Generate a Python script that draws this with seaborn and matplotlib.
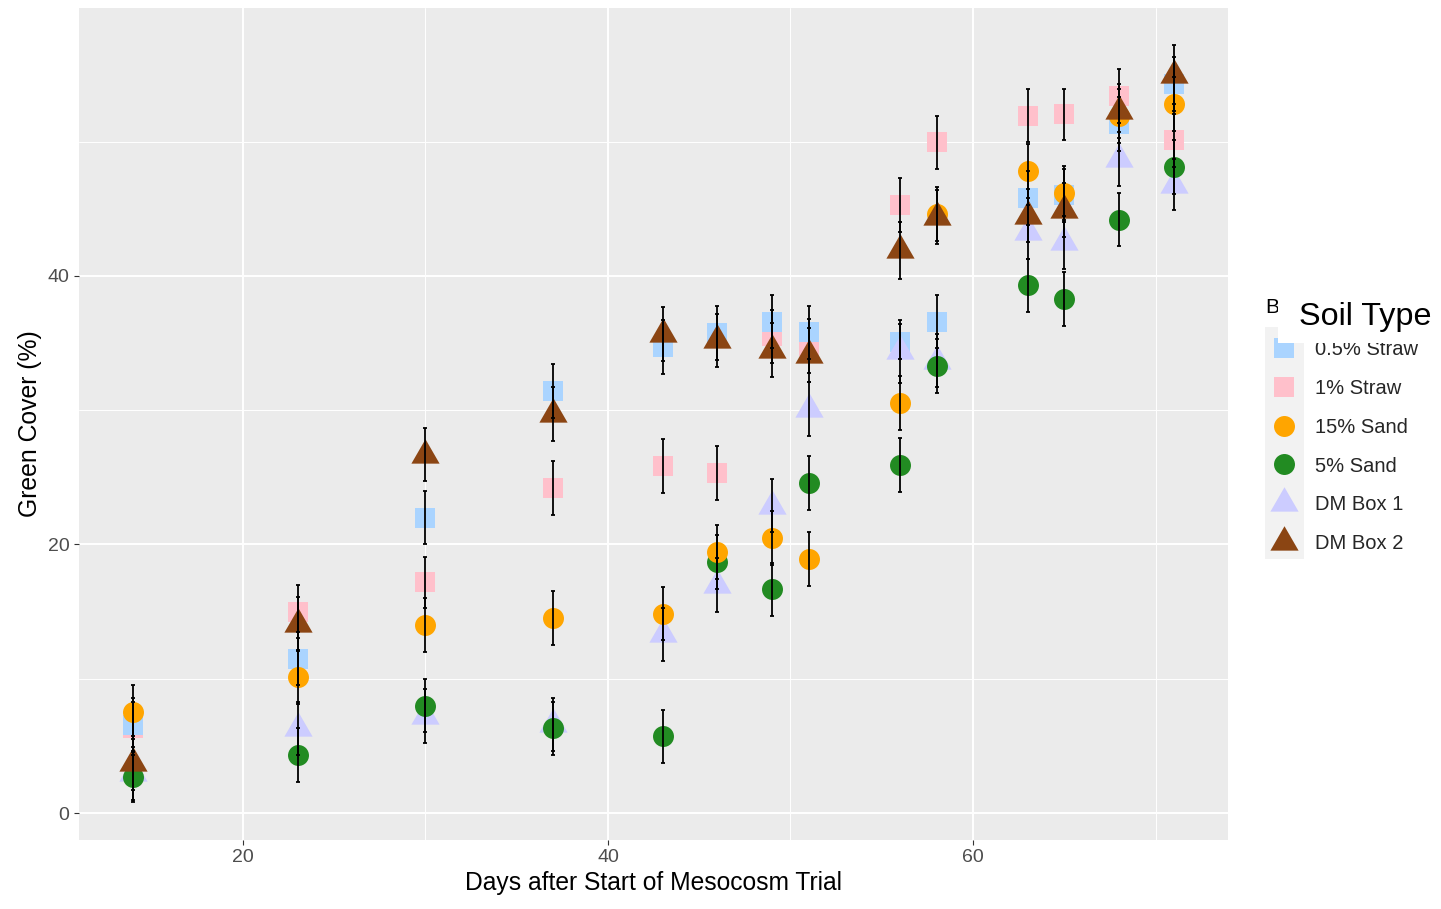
import numpy as np
import pandas as pd
import matplotlib
matplotlib.use("Agg")
import matplotlib.pyplot as plt
from matplotlib.path import Path
from matplotlib.lines import Line2D
from matplotlib.patches import Rectangle
import seaborn as sns

# ---------------- data ----------------
days = [14, 23, 30, 37, 43, 46, 49, 51, 56, 58, 63, 65, 68, 71]

straw_05 = [6.55, 11.5, 22.0, 31.45, 34.7, 35.75, 36.6, 35.8, 35.1, 36.6, 45.8, 46.0, 51.3, 54.3]
straw_1 = [6.3, 15.0, 17.2, 24.2, 25.85, 25.3, 35.5, 34.8, 45.3, 49.95, 51.95, 52.05, 53.4, 50.1]
sand_15 = [7.5, 10.15, 14.0, 14.5, 14.85, 19.45, 20.5, 18.9, 30.55, 44.6, 47.8, 46.2, 51.9, 52.8]
sand_5 = [2.7, 4.3, 8.0, 6.3, 5.7, 18.7, 16.65, 24.6, 25.9, 33.3, 39.3, 38.3, 44.2, 48.1]
dm_box1 = [2.95, 6.3, 7.2, 6.6, 13.3, 17.0, 22.9, 30.1, 34.4, 33.7, 43.3, 42.5, 48.7, 46.8]
dm_box2 = [3.75, 14.1, 26.7, 29.7, 35.7, 35.2, 34.5, 34.1, 41.9, 44.4, 44.5, 44.9, 52.3, 55.0]

err_straw_05 = [2.0, 2.0, 2.0, 2.0, 2.0, 2.0, 2.0, 2.0, 1.3, 2.0, 2.0, 2.0, 2.0, 2.0]
err_straw_1 = [2.0, 2.0, 1.9, 2.0, 2.0, 2.0, 2.0, 2.0, 2.0, 2.0, 2.0, 1.9, 2.0, 2.0]
err_sand_15 = [2.0, 2.0, 2.0, 2.0, 2.0, 2.0, 2.0, 2.0, 2.0, 2.0, 2.0, 2.0, 2.0, 2.0]
err_sand_5 = [1.9, 2.0, 2.0, 2.0, 2.0, 2.0, 2.0, 2.0, 2.0, 2.0, 2.0, 2.0, 2.0, 2.0]
err_dm_box1 = [2.0, 2.0, 2.0, 2.0, 2.0, 2.0, 2.0, 2.0, 2.35, 2.0, 2.0, 2.0, 2.0, 1.9]
err_dm_box2 = [2.0, 2.0, 2.0, 2.0, 2.0, 2.0, 2.0, 2.0, 2.1, 2.0, 2.0, 2.0, 2.0, 2.2]

labels = ["0.5% Straw", "1% Straw", "15% Sand", "5% Sand", "DM Box 1", "DM Box 2"]
colors = ["#aad4ff", "#ffc0cb", "#ffa500", "#228b22", "#ccccff", "#8b4513"]

# --------------- styling ---------------
sns.set_theme(style="darkgrid")
plt.rcParams["font.family"] = ["Liberation Sans", "DejaVu Sans"]

W, H = 1441, 909
fig = plt.figure(figsize=(W / 100, H / 100), dpi=100)
ax = fig.add_axes([79 / W, 1 - 840 / H, (1228 - 79) / W, (840 - 8) / H])
ax.set_facecolor("#EBEBEB")
for s in ax.spines.values():
    s.set_visible(False)

# triangle with centroid at origin (like R pch 17)
tri = Path([(0, 1), (-0.866, -0.5), (0.866, -0.5), (0, 1)],
           [Path.MOVETO, Path.LINETO, Path.LINETO, Path.CLOSEPOLY])

series = {
    "0.5% Straw": (straw_05, err_straw_05, "s", 225),
    "1% Straw": (straw_1, err_straw_1, "s", 225),
    "15% Sand": (sand_15, err_sand_15, "o", 228),
    "5% Sand": (sand_5, err_sand_5, "o", 228),
    "DM Box 1": (dm_box1, err_dm_box1, tri, 550),
    "DM Box 2": (dm_box2, err_dm_box2, tri, 550),
}
color_map = dict(zip(labels, colors))

draw_order = ["1% Straw", "0.5% Straw", "DM Box 1", "5% Sand", "15% Sand", "DM Box 2"]
for name in draw_order:
    vals, errs, mk, size = series[name]
    df = pd.DataFrame({"day": days, "cover": vals})
    sns.scatterplot(data=df, x="day", y="cover", color=color_map[name], marker=mk,
                    s=size, linewidth=0, ax=ax, legend=False, zorder=3)

for name in labels:
    vals, errs, mk, size = series[name]
    ax.errorbar(days, vals, yerr=errs, fmt="none", ecolor="black", elinewidth=1.3,
                capsize=1.7, capthick=1.3, zorder=4)

ax.set_xticks([20, 40, 60])
ax.set_yticks([0, 20, 40])
ax.set_xticks([10, 30, 50, 70], minor=True)
ax.set_yticks([10, 30, 50], minor=True)
ax.set_xlim(11.02, 73.97)
ax.set_ylim(-2.01, 59.96)
ax.grid(which="major", color="white", linewidth=1.4)
ax.grid(which="minor", color="white", linewidth=0.7)
ax.tick_params(which="major", length=3.8, width=0.8, color="#333333",
               labelsize=14, labelcolor="#4D4D4D", pad=3, bottom=True, left=True)
ax.tick_params(which="minor", length=0)
ax.set_xlabel("Days after Start of Mesocosm Trial", fontsize=17.7, color="black", labelpad=3)
ax.set_ylabel("Green Cover (%)", fontsize=17.8, color="black", labelpad=4)

# --------------- legend ---------------
fig.add_artist(Rectangle((1265 / W, 1 - 559 / H), 39 / W, 232 / H,
                         transform=fig.transFigure, facecolor="#F2F2F2",
                         edgecolor="none", zorder=0))
handles = []
for name in labels:
    vals, errs, mk, size = series[name]
    handles.append(Line2D([], [], linestyle="", marker=mk, color=color_map[name],
                          markeredgewidth=0, markersize=np.sqrt(size)))
leg = fig.legend(handles, labels, loc="upper left",
                 bbox_to_anchor=(1274 / W, 1 - 340 / H), frameon=False,
                 fontsize=14.5, borderpad=0, borderaxespad=0,
                 handlelength=1.0, handletextpad=1.04, labelspacing=0.985)
leg.set_zorder(2)
fig.text(1265 / W, 1 - 313 / H, "Box", fontsize=15, va="baseline", ha="left",
         color="black", zorder=1)
fig.add_artist(Rectangle((1278 / W, 1 - 343 / H), (W - 1278) / W, 55 / H,
                         transform=fig.transFigure, facecolor="white",
                         edgecolor="none", zorder=5))
fig.text(1299 / W, 1 - 325 / H, "Soil Type", fontsize=23.3, va="baseline",
         ha="left", color="black", zorder=6)

fig.savefig("out.png", dpi=100, facecolor="white")
